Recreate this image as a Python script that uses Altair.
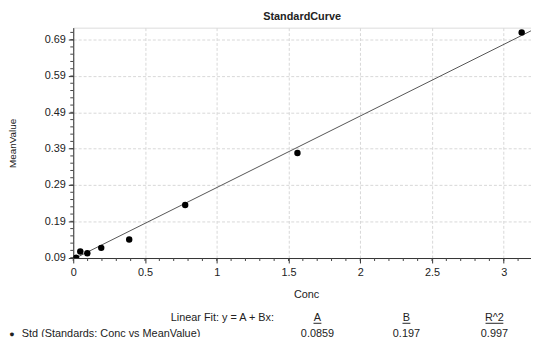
import altair as alt
import pandas as pd

# ---- data ----
conc = [0.02, 0.049, 0.098, 0.195, 0.39, 0.78, 1.5625, 3.125]
mean_value = [0.090, 0.107, 0.102, 0.117, 0.140, 0.235, 0.378, 0.710]

fit_A = 0.0859
fit_B = 0.197
fit_R2 = 0.997
fit_x = [0.0, 3.19]

y_ticks = [0.09, 0.19, 0.29, 0.39, 0.49, 0.59, 0.69]
x_ticks = [0, 0.5, 1, 1.5, 2, 2.5, 3]
x_minor = [round(i * 0.1, 2) for i in range(0, 32)]
y_minor = [round(0.09 + i * 0.02, 2) for i in range(0, 32) if 0.09 + i * 0.02 <= 0.723]

FONT = "Liberation Sans"
X_DOM = [0, 3.19]
Y_DOM = [0.089, 0.723]
H = 233

pts = pd.DataFrame({"Conc": conc, "MeanValue": mean_value})
fit = pd.DataFrame({"Conc": fit_x, "MeanValue": [fit_A + fit_B * v for v in fit_x]})
dummy = pd.DataFrame({"Conc": [0.0], "MeanValue": [0.09]})
xminor_df = pd.DataFrame({"Conc": x_minor})
yminor_df = pd.DataFrame({"MeanValue": y_minor})

xs = alt.Scale(domain=X_DOM, nice=False, zero=False)
ys = alt.Scale(domain=Y_DOM, nice=False, zero=False)

ax_x = alt.Axis(values=x_ticks, title=None, grid=True, gridColor="#d8d8d8",
                gridDash=[3, 2], tickSize=5, domainColor="#333", tickColor="#333",
                labelFont=FONT, labelFontSize=11, labelColor="#222", labelPadding=4,
                labelFlush=False, labelOverlap=False,
                labelExpr="format(datum.value, '~g')")
ax_y = alt.Axis(values=y_ticks, title=None, grid=True,
                gridColor="#d8d8d8", gridDash=[3, 2], tickSize=5,
                domainColor="#333", tickColor="#333",
                labelFont=FONT, labelFontSize=11, labelColor="#222", labelPadding=3,
                labelFlush=False, labelOverlap=False,
                labelExpr="format(datum.value, '.2f')")

X = lambda: alt.X("Conc:Q", scale=xs, axis=ax_x)
Y = lambda: alt.Y("MeanValue:Q", scale=ys, axis=ax_y)

base_axes = alt.Chart(dummy).mark_point(opacity=0).encode(x=X(), y=Y())

# minor ticks (drawn through the scales)
xminor = alt.Chart(xminor_df).mark_rule(color="#444", strokeWidth=1).encode(
    x=X(), y=alt.value(H), y2=alt.value(H + 3)
)
yminor = alt.Chart(yminor_df).mark_rule(color="#444", strokeWidth=1).encode(
    y=Y(), x=alt.value(-3), x2=alt.value(0)
)

line = alt.Chart(fit).mark_line(color="#555555", strokeWidth=1, clip=True).encode(x=X(), y=Y())

points = alt.Chart(pts).mark_circle(color="black", opacity=1, size=42, clip=True).encode(x=X(), y=Y())

def txt(s, x, y, align="center", size=11, weight="normal", angle=0):
    return alt.Chart(dummy).mark_text(
        text=s, font=FONT, fontSize=size, fontWeight=weight, align=align,
        baseline="middle", color="#222", angle=angle
    ).encode(x=alt.value(x), y=alt.value(y))

texts = [
    txt("Conc", 236, 270),
    txt("MeanValue", -61, 117, angle=270, size=10),
    txt("Linear Fit: y = A + Bx:", 203, 294, align="right"),
    txt("A", 247, 294),
    txt("B", 337, 294),
    txt("R^2", 426, 294),
    txt(f"{fit_A}", 247, 310),
    txt(f"{fit_B}", 337, 310),
    txt(f"{fit_R2}", 426, 310),
    txt("\u25CF", -62, 310, size=9),
    txt("Std (Standards: Conc vs MeanValue)", -52, 310, align="left"),
]

underlines = [
    alt.Chart(dummy).mark_rule(color="#222", strokeWidth=1).encode(
        x=alt.value(cx - w), x2=alt.value(cx + w), y=alt.value(299))
    for cx, w in [(247, 4), (337, 4), (426, 9)]
]

chart = alt.layer(base_axes, xminor, yminor, line, points, *texts, *underlines).properties(
    width=463,
    height=H,
    title=alt.TitleParams("StandardCurve", font=FONT, fontSize=11, fontWeight="bold",
                          color="#222", offset=6),
    autosize=alt.AutoSizeParams(type="none"),
    padding={"left": 66, "top": 18, "right": 0, "bottom": 80},
).configure_view(stroke="#333", strokeWidth=1).configure(background="white")

chart.save("out.html", embed_options={"renderer": "svg", "actions": False})
